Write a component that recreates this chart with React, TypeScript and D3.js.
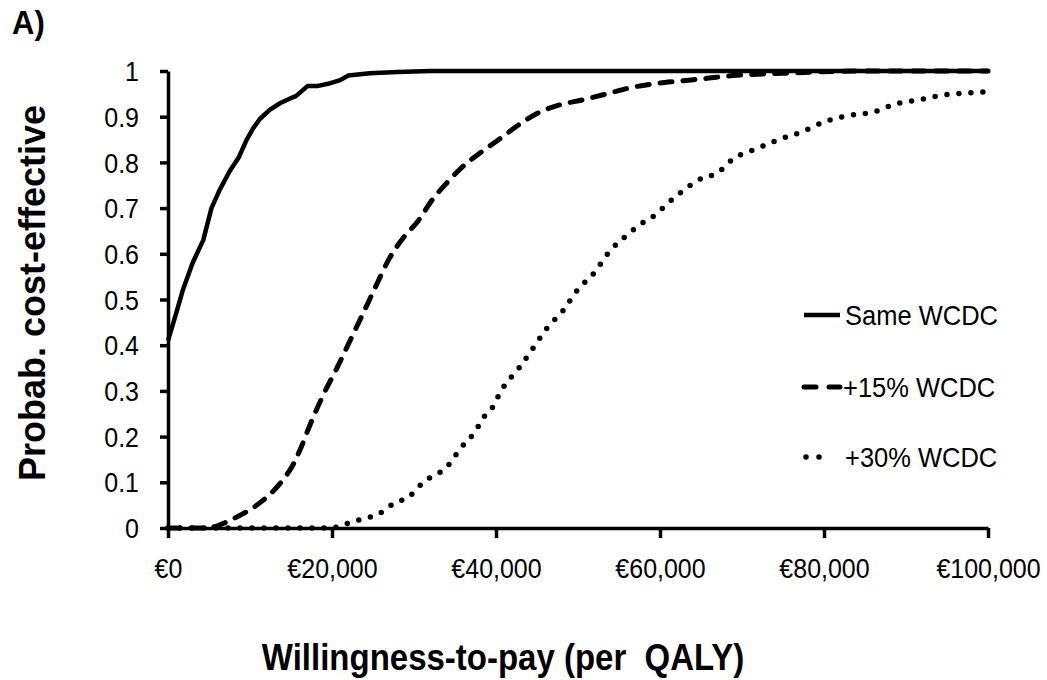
import { useEffect, useRef } from "react";
import * as d3 from "d3";

// willingness-to-pay in thousands of euro, probability cost-effective
const sameX = [0, 1, 1.8, 3, 4.3, 5.3, 6.3, 7.5, 8.6, 9.6, 10.4, 11.2, 12.4, 13.7, 14.9, 15.6, 17, 18.2, 19.5, 21, 22, 24.6, 28, 32, 40, 60, 80, 100];
const sameY = [0.41, 0.47, 0.52, 0.58, 0.63, 0.7, 0.74, 0.78, 0.81, 0.85, 0.875, 0.895, 0.915, 0.93, 0.94, 0.945, 0.967, 0.967, 0.972, 0.98, 0.99, 0.995, 0.998, 1, 1, 1, 1, 1];

const p15X = [0, 4, 5.7, 7, 8.8, 10, 11.2, 12.5, 14, 15.3, 16.2, 17.3, 18.9, 20.6, 22.2, 23.8, 25.5, 27, 28.7, 30.5, 32.3, 34, 35.6, 38, 40.5, 43, 45, 47.8, 50.6, 53.5, 56.3, 59.2, 62.4, 65.7, 68.9, 75, 85, 100];
const p15Y = [0, 0, 0.003, 0.012, 0.028, 0.04, 0.055, 0.075, 0.105, 0.14, 0.175, 0.225, 0.29, 0.35, 0.41, 0.47, 0.535, 0.59, 0.635, 0.672, 0.72, 0.755, 0.785, 0.82, 0.852, 0.885, 0.907, 0.926, 0.937, 0.95, 0.963, 0.972, 0.978, 0.984, 0.99, 0.995, 1, 1];

const p30X = [0, 20, 21.2, 22.6, 24, 25.5, 26.7, 27.9, 29.4, 30.4, 31.5, 32.8, 34, 34.9, 35.8, 36.8, 37.7, 38.4, 39.5, 40.2, 40.9, 42.8, 44.5, 46.2, 48.2, 49.9, 52, 53.7, 55.9, 58.2, 59.5, 60.5, 62.8, 65.2, 66.8, 69.1, 71.8, 74.5, 77.3, 80.1, 82.9, 86, 88.8, 91.7, 94.8, 97.6, 100];
const p30Y = [0, 0, 0.007, 0.013, 0.022, 0.028, 0.044, 0.057, 0.068, 0.087, 0.105, 0.118, 0.133, 0.155, 0.177, 0.196, 0.218, 0.24, 0.262, 0.286, 0.308, 0.35, 0.393, 0.437, 0.476, 0.52, 0.559, 0.602, 0.64, 0.672, 0.686, 0.703, 0.738, 0.766, 0.775, 0.81, 0.83, 0.85, 0.867, 0.889, 0.902, 0.91, 0.928, 0.937, 0.948, 0.952, 0.955];

const xTicks = [0, 20, 40, 60, 80, 100];
const xTickLabels = ["€0", "€20,000", "€40,000", "€60,000", "€80,000", "€100,000"];
const yTicks = [0, 0.1, 0.2, 0.3, 0.4, 0.5, 0.6, 0.7, 0.8, 0.9, 1];
const yTickLabels = ["0", "0.1", "0.2", "0.3", "0.4", "0.5", "0.6", "0.7", "0.8", "0.9", "1"];
const seriesNames = ["Same WCDC", "+15% WCDC", "+30% WCDC"];

const FONT = "'Liberation Sans', Arial, sans-serif";
const STRETCH = 1.1; // text in the original is a little taller than wide

export default function App() {
  const ref = useRef<SVGSVGElement>(null);

  useEffect(() => {
    if (!ref.current) return;
    const svg = d3.select(ref.current);
    svg.selectAll("*").remove();

    const x = d3.scaleLinear().domain([0, 100]).range([168, 988]);
    const y = d3.scaleLinear().domain([0, 1]).range([528, 71]);

    const styles = [
      { dash: null, width: 4.5, cap: "butt", curve: d3.curveLinear },
      { dash: "12 11", width: 5, cap: "round", curve: d3.curveMonotoneX },
      { dash: "0 12", width: 5.5, cap: "round", curve: d3.curveMonotoneX },
    ];
    const series = [
      sameX.map((v, i) => [v, sameY[i]]),
      p15X.map((v, i) => [v, p15Y[i]]),
      p30X.map((v, i) => [v, p30Y[i]]),
    ];

    // curves
    series.forEach((pts, i) => {
      const s = styles[i];
      const line = d3
        .line<number[]>()
        .x((d) => x(d[0]))
        .y((d) => y(d[1]))
        .curve(s.curve);
      const p = svg
        .append("path")
        .datum(pts)
        .attr("fill", "none")
        .attr("stroke", "#000")
        .attr("stroke-width", s.width)
        .attr("stroke-linecap", s.cap)
        .attr("stroke-linejoin", "round")
        .attr("d", line);
      if (s.dash) p.attr("stroke-dasharray", s.dash);
    });

    // x axis
    const xAxis = svg
      .append("g")
      .attr("transform", `translate(0,${y(0)})`)
      .call(
        d3
          .axisBottom(x)
          .tickValues(xTicks)
          .tickFormat((_, i) => xTickLabels[i])
          .tickSize(10)
          .tickSizeOuter(0),
      );
    xAxis.select(".domain").attr("stroke", "#000").attr("stroke-width", 3.5);
    xAxis.selectAll(".tick line").attr("stroke", "#000").attr("stroke-width", 3.5);
    xAxis
      .selectAll(".tick text")
      .attr("y", 50 / STRETCH)
      .attr("dy", 0)
      .attr("transform", `scale(1,${STRETCH})`)
      .attr("font-family", FONT)
      .attr("font-size", 25)
      .attr("fill", "#000");

    // y axis
    const yAxis = svg
      .append("g")
      .attr("transform", `translate(${x(0)},0)`)
      .call(
        d3
          .axisLeft(y)
          .tickValues(yTicks)
          .tickFormat((_, i) => yTickLabels[i])
          .tickSize(8)
          .tickSizeOuter(0),
      );
    yAxis.select(".domain").attr("stroke", "#000").attr("stroke-width", 3.5);
    yAxis.selectAll(".tick line").attr("stroke", "#000").attr("stroke-width", 3.5);
    yAxis
      .selectAll(".tick text")
      .attr("x", -29)
      .attr("dy", "0.35em")
      .attr("transform", `scale(1,${STRETCH})`)
      .attr("font-family", FONT)
      .attr("font-size", 25)
      .attr("fill", "#000");

    // axis titles
    svg
      .append("text")
      .attr("transform", `translate(503,670) scale(1,${STRETCH})`)
      .attr("text-anchor", "middle")
      .attr("font-family", FONT)
      .attr("font-size", 33)
      .attr("font-weight", "bold")
      .style("white-space", "pre")
      .text("Willingness-to-pay (per  QALY)");

    svg
      .append("text")
      .attr("transform", "translate(45,293) rotate(-90)")
      .attr("text-anchor", "middle")
      .attr("font-family", FONT)
      .attr("font-size", 36)
      .attr("font-weight", "bold")
      .text("Probab. cost-effective");

    svg
      .append("text")
      .attr("transform", `translate(12,34) scale(1,${STRETCH})`)
      .attr("font-family", FONT)
      .attr("font-size", 31)
      .attr("font-weight", "bold")
      .text("A)");

    // legend
    const legendY = [315, 387, 457];
    seriesNames.forEach((name, i) => {
      const s = styles[i];
      const ly = legendY[i];
      const l = svg
        .append("line")
        .attr("x1", i === 2 ? 806 : 804)
        .attr("x2", i === 2 ? 832 : 840)
        .attr("y1", ly)
        .attr("y2", ly)
        .attr("stroke", "#000")
        .attr("stroke-width", s.width)
        .attr("stroke-linecap", s.cap);
      if (i === 1) l.attr("stroke-dasharray", "12 13");
      if (i === 2) l.attr("stroke-dasharray", "0 13");
      svg
        .append("text")
        .attr("transform", `translate(${i === 1 ? 843 : 845},${ly + 10}) scale(1,${STRETCH})`)
        .attr("font-family", FONT)
        .attr("font-size", 25.5)
        .text(name);
    });
  }, []);

  return (
    <svg
      ref={ref}
      width={1047}
      height={680}
      style={{ position: "absolute", left: 0, top: 0, background: "#fff" }}
    />
  );
}
